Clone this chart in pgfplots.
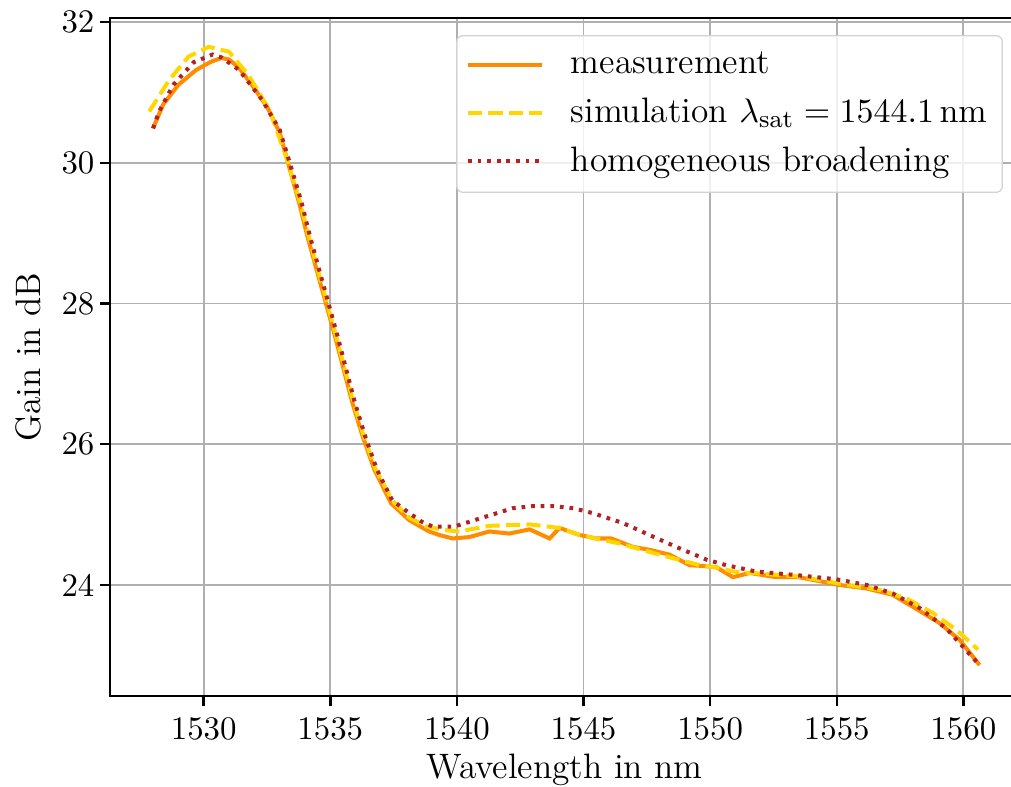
\documentclass[border=0pt]{standalone}
\usepackage{pgfplots}
\pgfplotsset{compat=1.18}
\definecolor{meas}{HTML}{FF8C00}
\definecolor{sim}{HTML}{FFD700}
\definecolor{homo}{HTML}{B22222}
\definecolor{gridgray}{HTML}{B0B0B0}
\begin{document}
\begin{tikzpicture}
\useasboundingbox (-35.48pt,-29.03pt) rectangle (290.6pt,224.5pt);
\begin{axis}[
  at={(0,0)}, anchor=south west,
  width=293.2pt, height=218.7pt, scale only axis,
  xmin=1526.3, xmax=1562.2, ymin=22.42, ymax=32.06,
  xtick={1530,1535,...,1560}, ytick={24,26,28,30,32},
  tick align=outside, major tick length=3.3pt,
  xtick pos=bottom, ytick pos=left,
  grid=major, major grid style={gridgray, line width=0.6pt},
  axis line style={line width=0.8pt},
  every tick/.style={black, line width=0.8pt},
  /pgf/number format/assume math mode=true,
  tick label style={font=\fontsize{10.6}{12}\selectfont},
  xticklabel style={/pgf/number format/1000 sep={}},
  yticklabel style={xshift=1.8pt},
  label style={font=\fontsize{11.4}{13}\selectfont},
  xlabel={Wavelength in nm}, ylabel={Gain in dB},
  xlabel style={at={(axis description cs:0.5,-0.109)}, anchor=center},
  ylabel style={at={(axis description cs:-0.0902,0.5)}, anchor=center},
  legend cell align=left,
  legend style={at={(1,1)}, anchor=north east, xshift=-5.2pt, yshift=-5.5pt,
    draw=gray!35, rounded corners=2pt, fill=white, fill opacity=0.8, text opacity=1,
    font=\fontsize{11.4}{13}\selectfont,
    inner xsep=3pt, inner ysep=3.3pt, row sep=2.3pt, column sep=6.5pt,
    nodes={inner sep=2pt}},
  legend image code/.code={\draw[#1] (0pt,0pt) -- (24pt,0pt);},
]
\addplot[meas, line width=1.3pt] coordinates {
(1528.0,30.49) (1528.4,30.83) (1529.0,31.11) (1529.7,31.32) (1530.3,31.44)
(1530.7,31.49) (1531.0,31.47) (1531.4,31.35) (1531.9,31.11) (1532.5,30.80)
(1533.0,30.43) (1533.3,30.04) (1533.77,29.43) (1534.10,28.95) (1534.46,28.48)
(1534.83,28.0) (1535.19,27.53) (1535.53,27.06) (1535.88,26.58) (1536.28,26.11)
(1536.74,25.64) (1537.40,25.16) (1538.12,24.92) (1538.9,24.76) (1539.3,24.71)
(1539.83,24.66) (1540.49,24.68) (1541.28,24.76) (1542.07,24.73) (1542.87,24.79)
(1543.66,24.66) (1544.05,24.81) (1544.84,24.71) (1545.5,24.66) (1546.1,24.66)
(1546.95,24.54) (1547.6,24.50) (1548.4,24.43) (1549.19,24.28) (1549.7,24.27)
(1550.25,24.25) (1550.9,24.11) (1551.56,24.17) (1552.6,24.11) (1553.5,24.11)
(1555.1,24.0) (1556.17,23.95) (1557.2,23.86) (1558.0,23.69) (1559.05,23.46)
(1559.85,23.22) (1560.64,22.86)
};
\addlegendentry{measurement}
\addplot[sim, line width=1.3pt, dash pattern=on 4.6pt off 2pt] coordinates {
(1527.85,30.73) (1528.64,31.18) (1529.4,31.51) (1530.2,31.65) (1531.0,31.58)
(1531.8,31.23) (1532.6,30.75) (1533.25,30.09) (1533.8,29.45) (1534.13,28.98)
(1534.49,28.5) (1534.86,28.02) (1535.22,27.55) (1535.56,27.08) (1535.91,26.6)
(1536.31,26.13) (1536.77,25.66) (1537.45,25.2) (1538.1,24.96) (1538.8,24.83)
(1539.5,24.78) (1540.1,24.76) (1541.28,24.84) (1542.87,24.86) (1544.05,24.81)
(1544.84,24.71) (1546.4,24.59) (1548.0,24.43) (1549.6,24.28) (1550.4,24.24)
(1550.9,24.19) (1553.5,24.12) (1555.1,24.02) (1556.7,23.93) (1557.75,23.81)
(1558.8,23.60) (1559.73,23.36) (1560.58,23.08)
};
\addlegendentry{simulation $\lambda_{\mathrm{sat}} = 1544.1\,\mathrm{nm}$}
\addplot[homo, line width=1.3pt, dash pattern=on 1.2pt off 1.9pt] coordinates {
(1528.0,30.49) (1528.24,30.73) (1528.8,31.11) (1529.6,31.43) (1530.35,31.54)
(1530.7,31.5) (1531.4,31.32) (1532.3,30.9) (1533.0,30.47) (1533.4,30.0)
(1533.87,29.43) (1534.2,28.95) (1534.56,28.48) (1534.93,28.0) (1535.29,27.53)
(1535.63,27.06) (1535.98,26.58) (1536.38,26.11) (1536.84,25.64) (1537.45,25.2)
(1538.05,25.04) (1538.6,24.9) (1539.04,24.83) (1539.9,24.83) (1540.6,24.91)
(1541.4,25.0) (1542.2,25.09) (1543.0,25.12) (1543.8,25.12) (1544.6,25.09)
(1545.37,25.02) (1546.55,24.88) (1547.6,24.71) (1548.66,24.54) (1549.85,24.36)
(1550.64,24.28) (1551.82,24.19) (1553.4,24.14) (1554.98,24.08) (1556.17,24.0)
(1557.2,23.88) (1558.28,23.67) (1559.33,23.38) (1560.64,22.86)
};
\addlegendentry{homogeneous broadening}
\end{axis}
\end{tikzpicture}
\end{document}
